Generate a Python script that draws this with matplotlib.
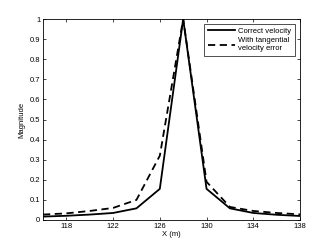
import matplotlib
matplotlib.use("Agg")
import matplotlib.pyplot as plt

x = [116, 118, 120, 122, 124, 126, 128, 130, 132, 134, 136, 138]
correct = [0.017, 0.021, 0.027, 0.035, 0.058, 0.155, 1.0, 0.155, 0.058, 0.035, 0.026, 0.02]
tangential = [0.027, 0.033, 0.045, 0.06, 0.1, 0.32, 1.0, 0.19, 0.065, 0.045, 0.035, 0.028]
xticks = [118, 122, 126, 130, 134, 138]
yticks = [0, 0.1, 0.2, 0.3, 0.4, 0.5, 0.6, 0.7, 0.8, 0.9, 1]

plt.rcParams["font.family"] = ["Liberation Sans", "DejaVu Sans"]
fig = plt.figure(figsize=(3.32, 2.48), dpi=100)
ax = fig.add_axes([43/332, 1 - 220/248, 257/332, 201/248])

ax.plot(x, correct, "k-", lw=1.3, label="Correct velocity")
ax.plot(x, tangential, "k--", lw=1.3, dashes=(4, 2.5), label="With tangential\nvelocity error")

ax.set_xlim(116, 138); ax.set_ylim(0, 1)
ax.set_xticks(xticks); ax.set_yticks(yticks)
ax.set_yticklabels(["0", "0.1", "0.2", "0.3", "0.4", "0.5", "0.6", "0.7", "0.8", "0.9", "1"])
ax.tick_params(direction="in", top=True, right=True, labelsize=5.5, length=2.5, width=0.5, pad=2)
for s in ax.spines.values():
    s.set_linewidth(0.6)
ax.set_xlabel("X (m)", fontsize=5.5, labelpad=1)
ax.set_ylabel("Magnitude", fontsize=5.5, labelpad=3)

leg = ax.legend(loc="upper right", fontsize=5.5, frameon=True, fancybox=False,
                handlelength=3.6, borderpad=0.45, labelspacing=0.3, borderaxespad=0.7,
                handletextpad=0.4)
leg.get_frame().set_edgecolor("black"); leg.get_frame().set_linewidth(0.6)

fig.savefig("out.png", dpi=100)
